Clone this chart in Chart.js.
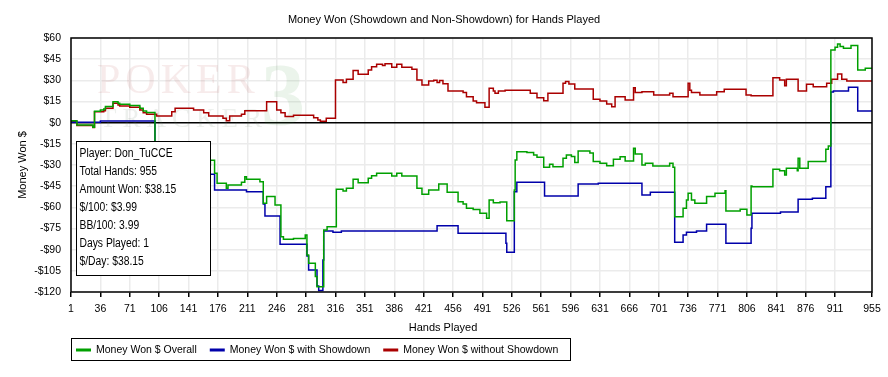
<!DOCTYPE html>
<html>
<head>
<meta charset="utf-8">
<script src="https://cdn.jsdelivr.net/npm/chart.js@4.4.1/dist/chart.umd.min.js"></script>
<style>
  html, body { margin: 0; padding: 0; background: #fff; }
  canvas { display: block; }
</style>
</head>
<body>
<canvas id="grafico" width="888" height="377"></canvas>
<script>
// Manos donde cambia cada serie y su valor acumulado ($)
const manosSinShowdown = [1, 8, 27, 29, 40, 42, 51, 57, 59, 71, 83, 87, 91, 103, 121, 125, 147, 159, 165, 182, 186, 190, 204, 208, 234, 246, 251, 256, 266, 290, 295, 298, 305, 316, 325, 329, 337, 343, 355, 359, 365, 372, 375, 383, 389, 395, 407, 413, 419, 427, 433, 437, 440, 444, 450, 468, 472, 480, 484, 494, 499, 504, 506, 510, 518, 548, 556, 564, 569, 587, 590, 594, 601, 623, 631, 639, 645, 649, 661, 671, 673, 681, 695, 714, 718, 736, 738, 740, 750, 770, 779, 805, 811, 837, 845, 851, 853, 867, 877, 885, 901, 907, 914, 919, 925, 955];
const ganadoSinShowdown = [1.0, -2.0, -3.5, 7.8, 8.5, 10.2, 13.7, 12.5, 11.8, 11.0, 9.0, 7.0, 6.0, 4.7, 7.8, 10.2, 9.0, 7.0, 4.7, 3.1, 1.4, 4.7, 6.0, 8.5, 14.9, 9.0, 7.0, 4.3, 5.3, 3.5, 1.9, 1.0, 3.1, 30.3, 28.5, 30.8, 36.9, 34.3, 37.3, 39.7, 41.4, 40.6, 41.7, 39.3, 41.4, 39.3, 37.8, 30.3, 26.7, 29.5, 30.0, 28.5, 29.8, 27.5, 22.5, 21.3, 18.4, 15.4, 14.2, 10.9, 24.4, 22.5, 20.8, 22.5, 23.0, 20.8, 17.7, 15.6, 20.8, 27.9, 29.1, 27.4, 23.9, 16.6, 15.4, 13.3, 11.3, 18.4, 16.1, 24.8, 21.3, 21.9, 19.6, 20.8, 18.4, 27.9, 23.0, 21.3, 19.6, 21.9, 23.7, 19.6, 19.0, 31.9, 30.3, 26.2, 30.8, 22.5, 27.2, 25.5, 27.9, 30.8, 34.5, 30.8, 29.5, 30.0];

const manosConShowdown = [1, 36, 101, 172, 210, 230, 232, 250, 282, 284, 294, 296, 301, 302, 313, 323, 437, 462, 519, 520, 529, 532, 565, 605, 629, 681, 691, 720, 730, 734, 746, 758, 781, 811, 812, 846, 867, 884, 900, 906, 909, 927, 938, 955];
const ganadoConShowdown = [0.3, 1.2, -36.6, -47.7, -48.9, -57.6, -66.1, -86.2, -94.5, -104.4, -115.7, -119.0, -97.3, -76.8, -77.7, -76.8, -73.0, -78.4, -85.5, -91.8, -48.9, -42.3, -51.9, -43.4, -43.0, -51.2, -49.3, -84.8, -79.6, -77.7, -76.8, -72.0, -85.5, -74.9, -64.2, -63.3, -54.3, -53.6, -45.4, 21.8, 22.5, 25.1, 8.3, 8.3];

const manosTotal = [1, 8, 27, 29, 36, 40, 42, 51, 57, 59, 71, 83, 87, 91, 101, 167, 172, 175, 186, 188, 204, 208, 210, 226, 230, 234, 244, 251, 254, 266, 280, 282, 284, 292, 294, 302, 306, 317, 325, 329, 337, 343, 355, 359, 365, 383, 389, 395, 413, 419, 427, 439, 449, 462, 468, 472, 480, 488, 496, 499, 504, 512, 520, 529, 530, 532, 544, 552, 556, 564, 571, 575, 587, 591, 597, 601, 605, 619, 623, 631, 639, 647, 655, 661, 671, 673, 681, 685, 694, 714, 718, 720, 730, 734, 736, 740, 744, 758, 768, 780, 781, 798, 806, 811, 812, 837, 845, 851, 853, 866, 867, 869, 879, 900, 903, 906, 911, 914, 917, 921, 930, 938, 947, 955];
const ganadoTotal = [1.3, -1.7, -3.2, 8.1, 9.0, 9.7, 11.4, 14.9, 13.7, 13.0, 12.2, 10.2, 8.2, 7.2, -30.0, -26.6, -35.9, -43.0, -46.5, -44.2, -42.3, -38.3, -40.1, -41.8, -57.1, -52.4, -58.3, -80.8, -82.6, -82.0, -79.6, -93.8, -99.7, -109.1, -116.2, -76.0, -73.7, -47.2, -48.4, -46.5, -40.1, -42.5, -39.4, -37.6, -35.9, -37.8, -35.9, -37.8, -46.5, -50.8, -47.7, -43.4, -49.3, -56.0, -57.6, -60.7, -61.5, -64.2, -67.8, -54.8, -56.7, -56.2, -69.5, -47.7, -26.4, -20.6, -21.2, -22.9, -24.5, -31.6, -29.5, -31.2, -25.2, -22.9, -24.0, -28.3, -20.1, -21.5, -27.6, -28.8, -30.5, -25.9, -24.1, -27.1, -18.1, -22.2, -30.0, -28.8, -30.7, -28.8, -31.6, -66.6, -60.7, -54.8, -50.0, -54.8, -57.1, -52.4, -50.0, -48.2, -62.6, -61.4, -65.4, -44.9, -45.4, -33.0, -34.0, -37.1, -32.3, -34.0, -25.2, -32.3, -27.6, -18.9, -16.5, 51.5, 53.5, 55.8, 54.0, 52.7, 54.6, 37.3, 38.5, 38.5];

// Marcas de los ejes
const marcasManos = [1, 36, 71, 106, 141, 176, 211, 246, 281, 316, 351, 386, 421, 456, 491, 526, 561, 596, 631, 666, 701, 736, 771, 806, 841, 876, 911, 955];
const marcasDinero = [60, 45, 30, 15, 0, -15, -30, -45, -60, -75, -90, -105, -120];

// Textos del recuadro de estadísticas
const lineasInfo = ['Player: Don_TuCCE', 'Total Hands: 955', 'Amount Won: $38.15', '$/100: $3.99', 'BB/100: 3.99', 'Days Played: 1', '$/Day: $38.15'];

const series = [
    { nombre: 'Money Won $ Overall', manos: manosTotal, valores: ganadoTotal, color: '#00a000' },
    { nombre: 'Money Won $ with Showdown', manos: manosConShowdown, valores: ganadoConShowdown, color: '#0000aa' },
    { nombre: 'Money Won $ without Showdown', manos: manosSinShowdown, valores: ganadoSinShowdown, color: '#aa0000' }
];

const fuente = '"Liberation Sans", Arial, sans-serif';

function formatoDinero(v) {
    return v < 0 ? '-$' + Math.abs(v) : '$' + v;
}

// Dibuja marca de agua, títulos, leyenda y recuadro
const adornos = {
    id: 'adornos',
    beforeDatasetsDraw(chart) {
        const { ctx, chartArea: a } = chart;
        ctx.save();
        ctx.beginPath();
        ctx.rect(a.left, a.top, a.right - a.left, a.bottom - a.top);
        ctx.clip();
        ctx.textBaseline = 'alphabetic';
        ctx.textAlign = 'left';
        ctx.font = '42px "Liberation Serif", serif';
        ctx.letterSpacing = '5px';
        ctx.fillStyle = 'rgba(190, 90, 90, 0.12)';
        ctx.fillText('POKER', 97, 93);
        ctx.font = '27px "Liberation Serif", serif';
        ctx.letterSpacing = '6px';
        ctx.fillStyle = 'rgba(110, 130, 110, 0.12)';
        ctx.fillText('TRACKER', 100, 127);
        ctx.letterSpacing = '0px';
        ctx.font = 'bold 88px "Liberation Serif", serif';
        ctx.fillStyle = 'rgba(60, 150, 60, 0.10)';
        ctx.fillText('3', 261, 124);
        ctx.restore();
    },
    afterDatasetsDraw(chart) {
        const { ctx, chartArea: a } = chart;
        ctx.save();
        ctx.strokeStyle = '#000';
        ctx.lineWidth = 1.5;
        ctx.strokeRect(a.left, a.top, a.right - a.left, a.bottom - a.top);
        ctx.restore();
    },
    afterDraw(chart) {
        const { ctx } = chart;
        ctx.save();
        ctx.fillStyle = '#000';
        ctx.font = '11px ' + fuente;
        ctx.textBaseline = 'middle';
        ctx.textAlign = 'center';
        ctx.fillText('Money Won (Showdown and Non-Showdown) for Hands Played', 444, 20);
        ctx.fillText('Hands Played', 443, 328);

        ctx.save();
        ctx.translate(23, 165);
        ctx.rotate(-Math.PI / 2);
        ctx.fillText('Money Won $', 0, 0);
        ctx.restore();

        // Leyenda
        ctx.fillStyle = '#fff';
        ctx.fillRect(71, 338, 500, 23);
        ctx.strokeStyle = '#000';
        ctx.lineWidth = 1;
        ctx.strokeRect(71.5, 338.5, 499, 22);
        ctx.textAlign = 'left';
        ctx.font = '10.5px ' + fuente;
        let x = 76;
        series.forEach(s => {
            ctx.strokeStyle = s.color;
            ctx.lineWidth = 3;
            ctx.beginPath();
            ctx.moveTo(x, 350);
            ctx.lineTo(x + 15, 350);
            ctx.stroke();
            ctx.fillStyle = '#000';
            ctx.fillText(s.nombre, x + 20, 350);
            x += 20 + ctx.measureText(s.nombre).width + 13;
        });

        // Recuadro de estadísticas
        ctx.fillStyle = '#fff';
        ctx.fillRect(76, 141, 134, 134);
        ctx.strokeStyle = '#000';
        ctx.lineWidth = 1;
        ctx.strokeRect(76.5, 141.5, 134, 134);
        ctx.fillStyle = '#000';
        ctx.font = '12px ' + fuente;
        lineasInfo.forEach((t, i) => {
            ctx.save();
            ctx.translate(79.5, 153.5 + i * 18);
            ctx.scale(0.86, 1);
            ctx.fillText(t, 0, 0);
            ctx.restore();
        });
        ctx.restore();
    }
};

const ctx = document.getElementById('grafico').getContext('2d');

new Chart(ctx, {
    type: 'line',
    data: {
        datasets: series.map(s => ({
            label: s.nombre,
            data: s.manos.map((m, i) => ({ x: m, y: s.valores[i] })),
            borderColor: s.color,
            backgroundColor: s.color,
            borderWidth: 1.5,
            pointRadius: 0,
            stepped: true,
            fill: false
        }))
    },
    options: {
        responsive: false,
        animation: false,
        events: [],
        layout: { padding: { top: 38, right: 16, bottom: 0, left: 0 } },
        plugins: {
            legend: { display: false },
            title: { display: false },
            tooltip: { enabled: false }
        },
        scales: {
            x: {
                type: 'linear',
                min: 1,
                max: 955,
                afterBuildTicks: s => { s.ticks = marcasManos.map(v => ({ value: v })); },
                afterFit: s => { s.height = 85; },
                grid: {
                    color: '#ebebeb',
                    lineWidth: 1.5,
                    tickLength: 5,
                    tickColor: '#000'
                },
                border: { display: false },
                ticks: {
                    autoSkip: false,
                    maxRotation: 0,
                    padding: 6,
                    color: '#000',
                    font: { family: fuente, size: 10.5 },
                    callback: v => String(v)
                }
            },
            y: {
                min: -120,
                max: 60,
                afterBuildTicks: s => { s.ticks = marcasDinero.map(v => ({ value: v })); },
                afterFit: s => { s.width = 71; },
                grid: {
                    color: c => c.tick && c.tick.value === 0 ? '#000' : '#ebebeb',
                    lineWidth: 1.5,
                    drawTicks: false
                },
                border: { display: false },
                ticks: {
                    padding: 10,
                    color: '#000',
                    font: { family: fuente, size: 10.5 },
                    callback: v => formatoDinero(v)
                }
            }
        }
    },
    plugins: [adornos]
});
</script>
</body>
</html>
